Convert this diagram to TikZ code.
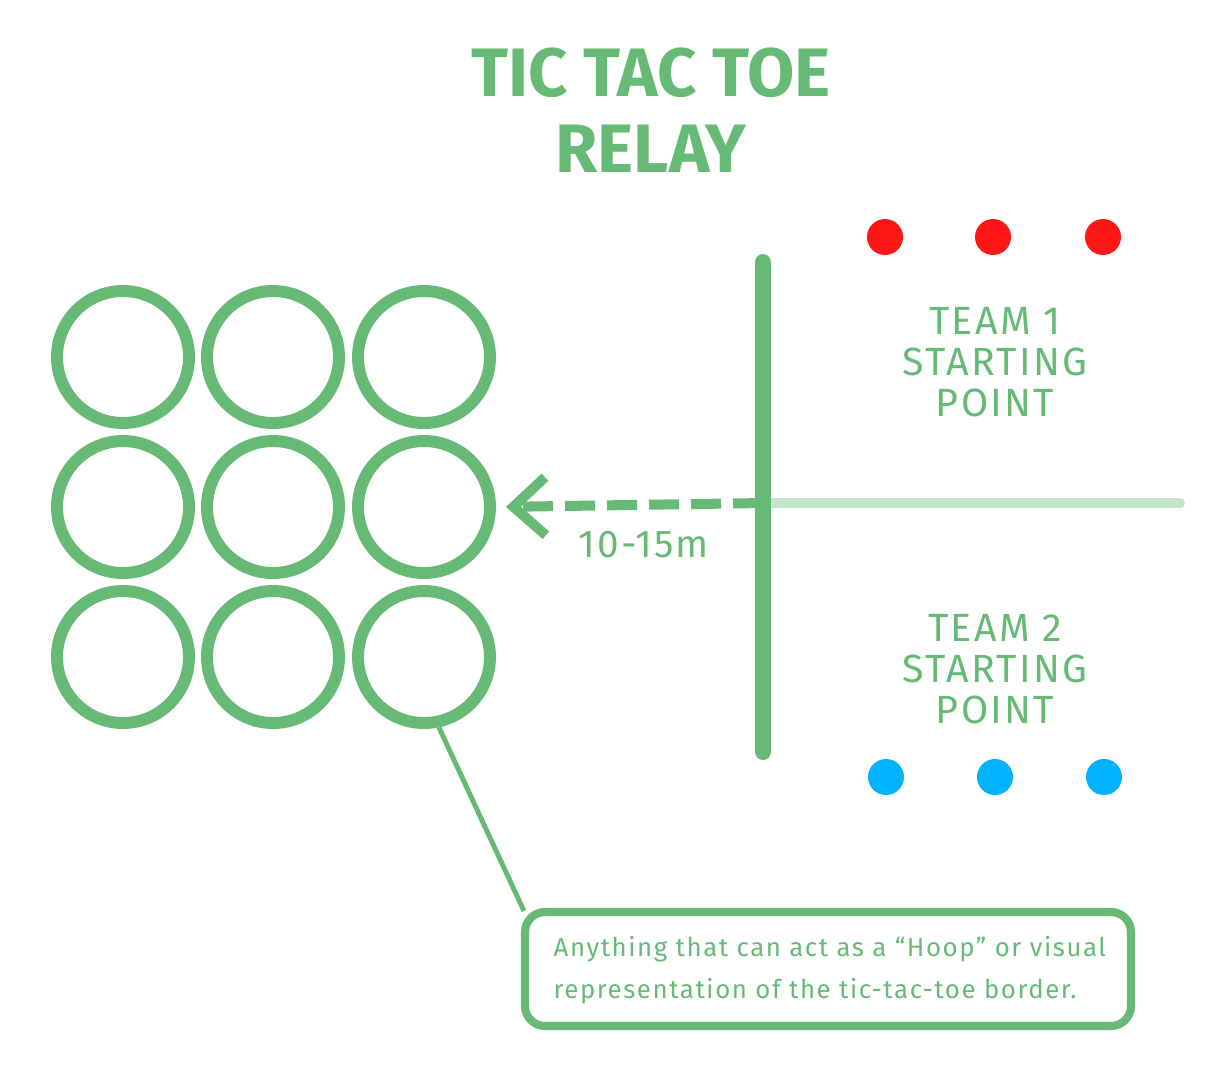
\documentclass[tikz,border=0pt]{standalone}
\usepackage{fontspec}
\setmainfont{Fira Sans}
\usetikzlibrary{arrows.meta}

\definecolor{hoopgreen}{RGB}{103,186,118}
\definecolor{lanegreen}{RGB}{196,228,201}
\definecolor{teamred}{RGB}{255,22,22}
\definecolor{teamblue}{RGB}{0,178,255}

\tikzset{
  hoop/.style={circle, draw=hoopgreen, line width=3.4pt, inner sep=0pt, minimum size=13.2mm},
  player/.style={circle, inner sep=0pt, minimum size=3.6mm},
  teamlabel/.style={text=hoopgreen, align=center, font=\fontsize{11.2}{11.6}\selectfont\addfontfeatures{LetterSpace=6}},
  notebox/.style={draw=hoopgreen, line width=2.3pt, rounded corners=2mm, minimum width=60.6mm, minimum height=11.4mm, inner sep=0pt}
}

\begin{document}
\begin{tikzpicture}[x=0.1mm, y=-0.1mm]
  \useasboundingbox (0,0) rectangle (1222,1080);

  % Titel
  \node[text=hoopgreen, align=center, font=\fontsize{19.5}{21.5}\selectfont\bfseries] (title) at (651,110) {TIC TAC TOE\\RELAY};

  % Reifen 3x3
  \foreach \r/\y in {1/357, 2/507, 3/657} {
    \foreach \c/\x in {1/123, 2/273, 3/424} {
      \node[hoop] (hoop\r\c) at (\x,\y) {};
    }
  }

  % Startlinie und Bahn
  \coordinate (lineTop) at (763,262);
  \coordinate (lineBot) at (763,752);
  \coordinate (split) at (763,503);
  \coordinate (laneEnd) at (1180,503);
  \draw[lanegreen, line width=2.85pt, line cap=round] (split) -- (laneEnd);
  \draw[hoopgreen, line width=4.55pt, line cap=round] (lineTop) -- (lineBot);

  % Abstand zu den Reifen
  \draw[hoopgreen, line width=2.85pt, dash pattern=on 3mm off 1.2mm,
        -{Straight Barb[length=3.2mm, width=5.8mm]}, shorten >=1mm] (split) -- (hoop23.east);
  \node[text=hoopgreen, font=\fontsize{11}{12}\selectfont\addfontfeatures{LetterSpace=5}] (dist) at (644,545) {10-15m};

  % Team 1 (rot)
  \foreach \i/\x in {1/885, 2/993, 3/1103}
    \node[player, fill=teamred] (red\i) at (\x,237) {};
  \node[teamlabel] (team1) at (995,362) {TEAM 1\\STARTING\\POINT};

  % Team 2 (blau)
  \foreach \i/\x in {1/886, 2/995, 3/1104}
    \node[player, fill=teamblue] (blue\i) at (\x,777) {};
  \node[teamlabel] (team2) at (995,669) {TEAM 2\\STARTING\\POINT};

  % Hinweis
  \node[notebox] (note) at (828,969) {};
  \node[text=hoopgreen, align=left, anchor=west, inner sep=0pt, font=\fontsize{7.35}{12}\selectfont\addfontfeatures{LetterSpace=6}] (notetext) at (553,970)
    {Anything that can act as a “Hoop” or visual\\representation of the tic-tac-toe border.};
  \draw[hoopgreen, line width=1.4pt] (hoop33.-78) -- ([xshift=0.3mm,yshift=-0.3mm]note.north west);
\end{tikzpicture}
\end{document}
